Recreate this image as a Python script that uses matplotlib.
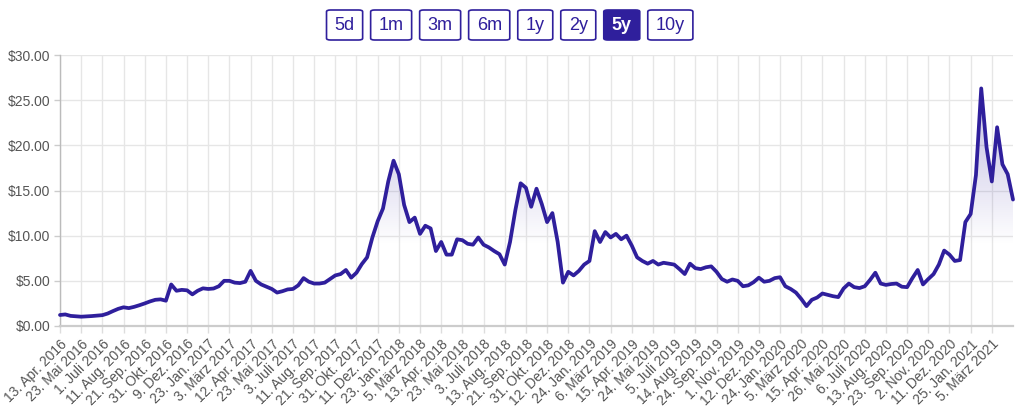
import numpy as np
import matplotlib.pyplot as plt
from matplotlib.patches import FancyBboxPatch, Polygon

plt.rcParams['font.family'] = ['Liberation Sans', 'DejaVu Sans']

# closing price in $, one reading every 7 trading days (Apr 2016 - Apr 2021)
step = 7
prices = [
    1.22, 1.28, 1.12, 1.07, 1.03, 1.06, 1.10, 1.15, 1.20, 1.38,
    1.65, 1.90, 2.07, 1.98, 2.12, 2.30, 2.50, 2.72, 2.90, 2.95,
    2.80, 4.60, 3.90, 4.00, 3.95, 3.50, 3.90, 4.17, 4.10, 4.15,
    4.40, 5.00, 5.00, 4.80, 4.75, 4.90, 6.10, 5.00, 4.60, 4.35,
    4.10, 3.70, 3.85, 4.05, 4.10, 4.50, 5.30, 4.90, 4.70, 4.70,
    4.80, 5.20, 5.60, 5.75, 6.20, 5.35, 5.90, 6.85, 7.60, 9.80,
    11.60, 13.00, 16.00, 18.30, 16.80, 13.40, 11.50, 12.00, 10.20, 11.10,
    10.80, 8.30, 9.30, 7.90, 7.90, 9.60, 9.50, 9.10, 9.00, 9.80,
    9.00, 8.70, 8.30, 7.95, 6.80, 9.30, 12.80, 15.80, 15.30, 13.20,
    15.20, 13.50, 11.50, 12.50, 9.30, 4.80, 6.00, 5.60, 6.10, 6.80,
    7.20, 10.50, 9.30, 10.40, 9.80, 10.20, 9.60, 10.00, 8.90, 7.60,
    7.20, 6.90, 7.20, 6.80, 7.00, 6.90, 6.80, 6.30, 5.75, 6.90,
    6.40, 6.30, 6.50, 6.60, 6.00, 5.20, 4.90, 5.15, 5.00, 4.40,
    4.50, 4.85, 5.35, 4.90, 5.00, 5.30, 5.40, 4.40, 4.10, 3.70,
    3.00, 2.20, 2.90, 3.15, 3.60, 3.45, 3.30, 3.20, 4.15, 4.70,
    4.30, 4.20, 4.40, 5.10, 5.90, 4.70, 4.55, 4.65, 4.70, 4.35,
    4.30, 5.30, 6.20, 4.60, 5.20, 5.75, 6.80, 8.35, 7.90, 7.20,
    7.30, 11.50, 12.40, 16.70, 26.30, 19.80, 16.00, 22.00, 17.90, 16.80,
    14.00,
]

tick_every = 28
tick_labels = [
    "13. Apr. 2016", "23. Mai 2016", "1. Juli 2016", "11. Aug. 2016",
    "21. Sep. 2016", "31. Okt. 2016", "9. Dez. 2016", "23. Jan. 2017",
    "3. März 2017", "12. Apr. 2017", "23. Mai 2017", "3. Juli 2017",
    "11. Aug. 2017", "21. Sep. 2017", "31. Okt. 2017", "11. Dez. 2017",
    "23. Jan. 2018", "5. März 2018", "13. Apr. 2018", "23. Mai 2018",
    "3. Juli 2018", "13. Aug. 2018", "21. Sep. 2018", "31. Okt. 2018",
    "12. Dez. 2018", "24. Jan. 2019", "6. März 2019", "15. Apr. 2019",
    "24. Mai 2019", "5. Juli 2019", "14. Aug. 2019", "24. Sep. 2019",
    "1. Nov. 2019", "12. Dez. 2019", "24. Jan. 2020", "5. März 2020",
    "15. Apr. 2020", "26. Mai 2020", "6. Juli 2020", "13. Aug. 2020",
    "23. Sep. 2020", "2. Nov. 2020", "11. Dez. 2020", "25. Jan. 2021",
    "5. März 2021",
]

y_ticks = [0, 5, 10, 15, 20, 25, 30]
ranges = ["5d", "1m", "3m", "6m", "1y", "2y", "5y", "10y"]
active = "5y"

indigo = '#2f1f9c'
W, H = 1024, 417

days = np.arange(len(prices)) * step

fig = plt.figure(figsize=(W / 100, H / 100), dpi=100)
ax = fig.add_axes([60 / W, 91 / H, 953 / W, 271 / H])

ax.plot(days, prices, color=indigo, lw=2.7, solid_joinstyle='round',
        solid_capstyle='round', zorder=4, clip_on=False)

# soft gradient under the line, only visible where price is high
rgba = np.zeros((300, 1, 4))
rgba[..., 0], rgba[..., 1], rgba[..., 2] = 0.19, 0.13, 0.62
lev = np.linspace(0, 30, 300)
rgba[:, 0, 3] = np.clip((lev - 9.0) / 11.0, 0, 1) * 0.2
im = ax.imshow(rgba, extent=[0, days[-1], 0, 30], origin='lower',
               aspect='auto', interpolation='bilinear', zorder=3)
verts = np.vstack([np.column_stack([days, prices]), [[days[-1], 0], [0, 0]]])
poly = Polygon(verts, closed=True, facecolor='none', edgecolor='none')
ax.add_patch(poly)
im.set_clip_path(poly)

ax.set_xlim(0, days[-1])
ax.set_ylim(0, 30)

ax.set_xticks(np.arange(len(tick_labels)) * tick_every)
ax.set_xticklabels(tick_labels, rotation=45, ha='right',
                   rotation_mode='anchor', fontsize=10, color='#555555')
ax.set_yticks(y_ticks)
ax.set_yticklabels(['${:.2f}'.format(v) for v in y_ticks],
                   fontsize=10, color='#555555')
ax.tick_params(axis='x', length=5, width=1, color='#dddddd', pad=3)
ax.tick_params(axis='y', length=4, width=1, color='#cccccc', pad=3)

ax.grid(True, color='#e6e6e6', lw=1)
ax.set_axisbelow(True)
for s in ['top', 'right']:
    ax.spines[s].set_visible(False)
ax.spines['left'].set_color('#bbbbbb')
ax.spines['left'].set_linewidth(1)
ax.spines['bottom'].set_color('#cccccc')
ax.spines['bottom'].set_linewidth(1.6)

# range selector buttons
fig.canvas.draw()
r = fig.canvas.get_renderer()
widths = []
for lab in ranges:
    t = fig.text(0, 0, lab, size=13, fontweight='bold' if lab == active else 'normal')
    widths.append(t.get_window_extent(r).width + 16)
    t.remove()
gap = 8
total = sum(widths) + gap * (len(widths) - 1)
x = 509.7 - total / 2
y0, bh = H - 40, 30
for lab, w in zip(ranges, widths):
    on = lab == active
    box = FancyBboxPatch((x / W, y0 / H), w / W, bh / H,
                         boxstyle='round,pad=0,rounding_size=0.004',
                         transform=fig.transFigure, lw=1.2,
                         edgecolor=indigo, facecolor=indigo if on else 'white')
    fig.patches.append(box)
    fig.text((x + w / 2) / W, (y0 + bh / 2) / H, lab, size=13,
             ha='center', va='center', color='white' if on else indigo,
             fontweight='bold' if on else 'normal')
    x += w + gap

fig.savefig('out.png', dpi=100)
